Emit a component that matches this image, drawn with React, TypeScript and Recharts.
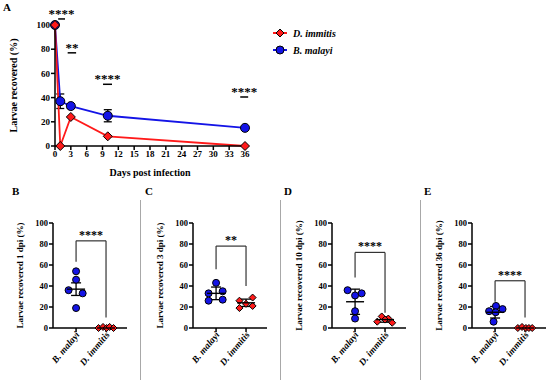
import React from "react";
import {
  LineChart,
  Line,
  XAxis,
  YAxis,
  ErrorBar,
  Legend,
  Label,
  ReferenceLine,
  ScatterChart,
  Scatter,
} from "recharts";

const SERIF = "Liberation Serif, Times New Roman, DejaVu Serif, serif";
const RED = "#ff1a1a";
const BLUE = "#1414e6";

// A: time course (% larvae recovered)
const days = [0, 1, 3, 10, 36];
const immitisPct = [100, 0, 24, 8, 0];
const malayiPct = [100, 37, 33, 25, 15];
const malayiSem = [0, 6, 2, 5, 1];
const dayTicks = [0, 3, 6, 9, 12, 15, 18, 21, 24, 27, 30, 33, 36];
const pctTicks = [0, 20, 40, 60, 80, 100];
const legendOrder = ["D. immitis", "B. malayi"];

// significance marks over the time course
const sigFrom = [0.6, 2.4, 9.1, 35.1];
const sigTo = [1.9, 4.0, 10.8, 36.6];
const sigAt = [105, 77, 51, 40.5];
const sigStars = ["****", "**", "****", "****"];

// B-E: per-animal recovery at each time point
const panelLetters = ["B", "C", "D", "E"];
const panelDpi = [1, 3, 10, 36];
const groups = ["B. malayi", "D. immitis"];
const malayiDots = [
  [54, 46, 36, 33, 19],
  [43, 35, 33, 27, 26],
  [36, 33, 31, 16, 9],
  [21, 18, 16, 15, 6],
];
const malayiJitter = [
  [0, 0, -0.25, 0.22, 0],
  [0, 0.22, -0.25, 0.22, -0.25],
  [-0.25, 0.22, 0, 0, 0],
  [0.03, 0.25, -0.2, 0.02, -0.05],
];
const immitisDots = [
  [0, 1, 0, 1, 0],
  [26, 29, 23, 19, 21],
  [11, 9, 8, 6, 5],
  [0, 1, 0, 0, 0],
];
const immitisJitter = [
  [-0.25, -0.1, 0.02, 0.12, 0.25],
  [-0.22, 0.22, 0, -0.22, 0.22],
  [-0.11, 0.11, 0, -0.26, 0.24],
  [-0.24, -0.1, 0.03, 0.13, 0.24],
];
const malayiMean = [37, 33, 25, 15];
const malayiErr = [6, 6, 12, 5.5];
const immitisMean = [0, 24, 8, 0];
const immitisErr = [0, 3.5, 2.5, 0];
const bracketTop = [83, 78, 72, 45];
const bracketLeft = [63, 56, 48, 25];
const bracketRight = [10, 40, 14.5, 10];
const panelStars = ["****", "**", "****", "****"];

const axisLine = { stroke: "#000", strokeWidth: 1.5 };
const tickFont = { fontSize: 9, fontWeight: 700, fill: "#000", fontFamily: SERIF, style: { fontFamily: SERIF } };
const smallTickFont = { fontSize: 8.5, fontWeight: 700, fill: "#000", fontFamily: SERIF, style: { fontFamily: SERIF } };
const bold = { fontWeight: 700, fill: "#000", fontFamily: SERIF };

const diamondPath = (cx: number, cy: number, r: number) =>
  `M${cx},${cy - r}L${cx + r},${cy}L${cx},${cy + r}L${cx - r},${cy}Z`;

const redDiamond = (r: number) => (p: any) => (
  <path key={`rd-${p.index}`} d={diamondPath(p.cx, p.cy, r)} fill={RED} stroke="#000" strokeWidth={1} />
);
const blueDot = (r: number) => (p: any) => (
  <circle key={`bd-${p.index}`} cx={p.cx} cy={p.cy} r={r} fill={BLUE} stroke="#000" strokeWidth={1} />
);
const meanBar = (p: any) => (
  <line key={`mb-${p.index}`} x1={p.cx - 9} x2={p.cx + 9} y1={p.cy} y2={p.cy} stroke="#000" strokeWidth={1.4} />
);

const timeData = days.map((d, i) => ({
  day: d,
  immitis: immitisPct[i],
  malayi: malayiPct[i],
  malayiSem: malayiSem[i],
}));

const renderLegend = (props: any) => {
  const items = [...(props.payload || [])].sort(
    (a: any, b: any) => legendOrder.indexOf(a.value) - legendOrder.indexOf(b.value)
  );
  return (
    <svg width={130} height={34}>
      {items.map((it: any, i: number) => (
        <g key={it.value} transform={`translate(0, ${i * 17 + 7})`}>
          <line x1={3} x2={17} y1={0} y2={0} stroke={it.color} strokeWidth={2} />
          {it.value === "D. immitis" ? (
            <path d={diamondPath(10, 0, 4)} fill={RED} stroke="#000" strokeWidth={1} />
          ) : (
            <circle cx={10} cy={0} r={4} fill={BLUE} stroke="#000" strokeWidth={1} />
          )}
          <text x={23} y={0} dy="0.35em" fontSize={10} fontStyle="italic" fontWeight={700} fontFamily={SERIF}>
            {it.value}
          </text>
        </g>
      ))}
    </svg>
  );
};

function TimeCourse() {
  return (
    <LineChart width={550} height={185} data={timeData} margin={{ top: 25, right: 305, bottom: 7, left: 5 }}>
      <XAxis
        dataKey="day"
        type="number"
        domain={[0, 36]}
        ticks={dayTicks}
        interval={0}
        tick={tickFont}
        tickSize={4}
        tickMargin={1}
        axisLine={axisLine}
        tickLine={axisLine}
        height={32}
      >
        <Label value="Days post infection" position="insideBottom" offset={2} style={{ ...bold, fontSize: 10 }} />
      </XAxis>
      <YAxis
        type="number"
        domain={[0, 100]}
        ticks={pctTicks}
        interval={0}
        width={50}
        tick={tickFont}
        tickSize={4}
        tickMargin={1}
        axisLine={axisLine}
        tickLine={axisLine}
      >
        <Label
          value="Larvae recovered (%)"
          angle={-90}
          position="insideLeft"
          offset={8}
          style={{ ...bold, fontSize: 10, textAnchor: "middle" }}
        />
      </YAxis>
      <Legend
        layout="vertical"
        align="center"
        verticalAlign="middle"
        content={renderLegend}
        wrapperStyle={{ left: 270, top: 26, width: 130, height: 34 }}
      />
      <Line
        name="B. malayi"
        dataKey="malayi"
        stroke={BLUE}
        strokeWidth={1.8}
        dot={blueDot(4.5)}
        activeDot={false}
        isAnimationActive={false}
      >
        <ErrorBar dataKey="malayiSem" direction="y" width={4} stroke="#000" strokeWidth={1.3} />
      </Line>
      <Line
        name="D. immitis"
        dataKey="immitis"
        stroke={RED}
        strokeWidth={1.8}
        dot={redDiamond(4.5)}
        activeDot={false}
        isAnimationActive={false}
      />
      {sigStars.map((s, i) => (
        <ReferenceLine
          key={`sig-${i}`}
          segment={[
            { x: sigFrom[i], y: sigAt[i] },
            { x: sigTo[i], y: sigAt[i] },
          ]}
          stroke="#000"
          strokeWidth={1.5}
          ifOverflow="visible"
          label={{ value: s, position: "top", offset: 1, fontSize: 13, ...bold }}
        />
      ))}
    </LineChart>
  );
}

const GroupTick = (props: any) => {
  const { x, y, payload } = props;
  const name = groups[payload.value - 1];
  const tx = x + 4;
  const ty = y + 2;
  return (
    <text
      x={tx}
      y={ty}
      transform={`rotate(-50, ${tx}, ${ty})`}
      textAnchor="end"
      fontSize={9.5}
      fontStyle="italic"
      fontWeight={700}
      fontFamily={SERIF}
      fill="#000"
    >
      {name}
    </text>
  );
};

function DotPanel({ idx }: { idx: number }) {
  const malayi = malayiDots[idx].map((v, i) => ({ x: 1 + malayiJitter[idx][i], y: v }));
  const immitis = immitisDots[idx].map((v, i) => ({ x: 2 + immitisJitter[idx][i], y: v }));
  const summary = [
    { x: 1, y: malayiMean[idx], err: malayiErr[idx] },
    { x: 2, y: immitisMean[idx], err: immitisErr[idx] },
  ];
  const legs = [
    [{ x: 1, y: bracketLeft[idx] }, { x: 1, y: bracketTop[idx] }],
    [{ x: 2, y: bracketRight[idx] }, { x: 2, y: bracketTop[idx] }],
  ];
  return (
    <ScatterChart width={140} height={186} margin={{ top: 23, right: 13, bottom: 8, left: 5 }}>
      <XAxis
        type="number"
        dataKey="x"
        domain={[0.23, 2.7]}
        ticks={[1, 2]}
        interval={0}
        tick={<GroupTick />}
        tickSize={4}
        tickMargin={1}
        height={50}
        axisLine={axisLine}
        tickLine={axisLine}
      />
      <YAxis
        type="number"
        dataKey="y"
        domain={[0, 100]}
        ticks={pctTicks}
        interval={0}
        width={48}
        tick={smallTickFont}
        tickSize={4}
        tickMargin={1}
        axisLine={axisLine}
        tickLine={axisLine}
      >
        <Label
          value={`Larvae recovered ${panelDpi[idx]} dpi (%)`}
          angle={-90}
          position="insideLeft"
          offset={15}
          style={{ ...bold, fontSize: 9, textAnchor: "middle" }}
        />
      </YAxis>
      {legs.map((seg, i) => (
        <ReferenceLine key={`leg-${i}`} segment={seg} stroke="#333" strokeWidth={1.2} ifOverflow="visible" />
      ))}
      <ReferenceLine
        segment={[
          { x: 1, y: bracketTop[idx] },
          { x: 2, y: bracketTop[idx] },
        ]}
        stroke="#333"
        strokeWidth={1.2}
        ifOverflow="visible"
        label={{ value: panelStars[idx], position: "top", offset: 2, fontSize: 12, ...bold }}
      />
      <Scatter data={malayi} shape={blueDot(3.5)} isAnimationActive={false} />
      <Scatter data={immitis} shape={redDiamond(3.5)} isAnimationActive={false} />
      <Scatter data={summary} shape={meanBar} isAnimationActive={false}>
        <ErrorBar dataKey="err" direction="y" width={5} stroke="#000" strokeWidth={1.3} />
      </Scatter>
    </ScatterChart>
  );
}

const letterStyle = (left: number, top: number): React.CSSProperties => ({
  position: "absolute",
  left,
  top,
  fontSize: 11,
  lineHeight: 1,
  fontWeight: 700,
  fontFamily: SERIF,
  color: "#000",
});

const letterLeft = [12, 145, 284, 424];

export default function App() {
  return (
    <div
      style={{
        position: "absolute",
        left: 0,
        top: 0,
        width: 550,
        height: 386,
        background: "#fff",
        fontFamily: SERIF,
      }}
    >
      <div style={{ position: "absolute", left: 0, top: 0 }}>
        <TimeCourse />
      </div>
      <div style={letterStyle(3, 2)}>A</div>
      {panelLetters.map((p, i) => (
        <div key={p} style={letterStyle(letterLeft[i], 186)}>
          {p}
        </div>
      ))}
      {[1, 2, 3].map((i) => (
        <div
          key={`sep-${i}`}
          style={{ position: "absolute", left: 140 * i, top: 200, width: 1, height: 180, background: "#a8a8a8" }}
        />
      ))}
      {panelLetters.map((p, i) => (
        <div key={`panel-${p}`} style={{ position: "absolute", left: Math.round(i * 139.7), top: 200 }}>
          <DotPanel idx={i} />
        </div>
      ))}
    </div>
  );
}
